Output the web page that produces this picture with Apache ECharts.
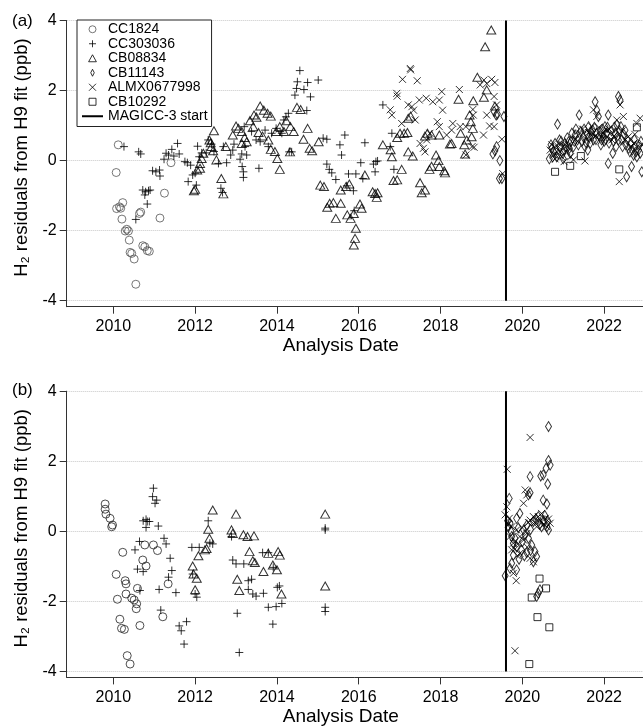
<!DOCTYPE html>
<html>
<head>
<meta charset="utf-8">
<script src="https://cdn.jsdelivr.net/npm/echarts@6/dist/echarts.min.js"></script>
<style>
html,body{margin:0;padding:0;background:#fff;}
#chart{width:643px;height:728px;}
</style>
</head>
<body>
<div id="chart"></div>
<script>
// ---------- data ----------
const xTicks = [2010, 2012, 2014, 2016, 2018, 2020, 2022];
const yTicks = [-4, -2, 0, 2, 4];
const seriesNames = ['CC1824', 'CC303036', 'CB08834', 'CB11143', 'ALMX0677998', 'CB10292'];
const lineName = 'MAGICC-3 start';
const magiccStart = [[2019.6, -4], [2019.6, 4]];

// panel (a)
const aCC1824 = [[2010.12,0.45],[2010.07,-0.34],[2010.08,-1.37],[2010.15,-1.32],[2010.23,-1.20],[2010.18,-1.36],[2010.21,-1.67],[2010.29,-2.01],[2010.33,-1.96],[2010.37,-2.01],[2010.39,-2.27],[2010.41,-2.62],[2010.45,-2.65],[2010.51,-2.81],[2010.55,-3.53],[2010.72,-2.43],[2010.77,-2.46],[2010.83,-2.57],[2010.88,-2.59],[2010.64,-1.51],[2010.67,-1.47],[2011.14,-1.64],[2011.25,-0.93],[2011.41,-0.06]];
const aCC303036 = [[2010.26,0.40],[2010.62,0.25],[2010.67,0.19],[2010.55,-1.68],[2010.72,-0.84],[2010.79,-0.89],[2010.86,-0.86],[2010.77,-0.98],[2010.83,-1.24],[2010.90,-0.84],[2010.96,-0.29],[2011.04,-0.32],[2011.13,-0.27],[2011.14,-0.44],[2011.24,0.04],[2011.29,0.21],[2011.35,0.16],[2011.43,0.32],[2011.48,0.13],[2011.57,0.49],[2011.61,0.19],[2011.75,-0.03],[2011.81,-0.06],[2011.83,-0.60],[2011.89,-0.13],[2011.94,-0.41],[2012.00,-0.36],[2012.03,-0.70],[2012.06,0.41],[2012.10,0.11],[2012.16,0.22],[2012.27,0.22],[2012.32,0.59],[2012.40,0.47],[2012.46,0.26],[2012.57,-0.08],[2012.63,-0.79],[2012.67,-0.91],[2012.69,0.40],[2012.77,-0.06],[2012.87,0.16],[2012.92,0.30],[2012.95,0.47],[2013.10,0.04],[2013.15,-0.17],[2013.18,-0.32],[2013.18,-0.48],[2013.14,0.19],[2013.22,0.40],[2013.20,0.97],[2013.26,0.16],[2013.38,0.83],[2013.49,0.59],[2013.59,0.54],[2013.56,-0.22],[2013.71,0.87],[2013.79,0.40],[2013.87,0.78],[2013.98,0.92],[2014.08,0.83],[2014.12,0.78],[2014.17,1.16],[2014.22,1.25],[2014.28,1.35],[2014.30,0.25],[2014.36,0.25],[2014.44,1.87],[2014.48,2.06],[2014.56,2.57],[2014.50,2.25],[2014.66,2.03],[2014.75,2.23],[2014.82,1.82],[2014.73,1.43],[2015.01,2.30],[2015.13,0.64],[2015.22,0.61],[2015.22,-0.10],[2015.28,-0.25],[2015.34,-0.35],[2015.44,-0.54],[2015.54,0.45],[2015.58,0.16],[2015.66,0.73],[2015.75,-0.38],[2015.93,-0.38],[2016.10,-0.51],[2015.71,-0.72],[2015.87,-0.86],[2015.89,-1.43],[2016.05,-0.06],[2016.15,0.51],[2016.36,-0.10],[2016.42,-0.03],[2016.46,-0.01],[2016.40,-0.32],[2016.59,1.59],[2016.77,0.40],[2016.81,0.78],[2016.86,-0.25]];
const aCB08834 = [[2012.46,0.85],[2012.35,0.59],[2012.38,0.51],[2012.40,0.40],[2012.44,0.28],[2012.20,0.21],[2012.16,0.06],[2012.12,-0.22],[2012.05,-0.27],[2012.12,-0.08],[2012.00,-0.82],[2011.97,-0.86],[2012.52,0.02],[2012.64,-0.51],[2012.69,-0.95],[2012.75,0.40],[2012.92,0.73],[2013.00,0.99],[2013.06,0.92],[2013.14,0.83],[2013.21,0.66],[2013.26,0.54],[2013.14,0.49],[2013.34,1.14],[2013.44,1.30],[2013.50,1.24],[2013.59,1.56],[2013.68,1.44],[2013.77,1.35],[2013.85,1.27],[2013.42,0.97],[2013.55,0.80],[2013.65,0.70],[2013.79,0.59],[2013.85,0.32],[2013.95,0.26],[2014.01,0.06],[2014.07,-0.25],[2013.98,0.83],[2014.07,0.97],[2014.17,0.83],[2014.23,1.14],[2014.33,0.97],[2014.41,0.83],[2014.49,1.52],[2014.58,1.46],[2014.32,0.25],[2014.65,0.61],[2014.75,0.92],[2014.80,0.35],[2014.86,0.28],[2015.02,0.54],[2015.06,-0.70],[2015.15,-0.74],[2015.23,-1.33],[2015.29,-1.22],[2015.38,-1.20],[2015.44,-1.65],[2015.56,-1.22],[2015.72,-1.55],[2015.80,-1.65],[2015.88,-1.51],[2015.93,-1.93],[2015.91,-2.22],[2015.88,-2.41],[2015.56,-0.84],[2015.69,-0.74],[2015.77,-0.67],[2016.03,-1.24],[2016.07,-1.36],[2016.15,-0.41],[2016.34,-0.89],[2016.40,-0.94],[2016.46,-0.92],[2016.44,-1.05],[2016.59,0.45],[2016.78,0.31],[2016.81,0.11],[2016.85,-0.57],[2016.94,-0.55],[2017.05,-0.25],[2016.94,0.66],[2017.01,0.78],[2017.11,0.78],[2017.19,0.80],[2017.21,1.21],[2017.27,1.27],[2017.21,0.25],[2017.32,0.13],[2017.50,-0.63],[2017.54,-0.92],[2017.62,-0.84],[2017.62,0.70],[2017.68,0.78],[2017.78,0.73],[2017.73,-0.25],[2017.78,-0.16],[2017.89,0.16],[2017.95,0.00],[2017.97,-0.17],[2018.09,-0.29],[2018.11,-0.35],[2017.97,0.73],[2018.23,0.47],[2018.27,0.49],[2018.44,1.75],[2018.49,0.78],[2018.58,0.45],[2018.60,0.19],[2018.64,0.59],[2018.71,1.30],[2018.74,1.11],[2018.80,1.71],[2018.79,0.92],[2018.76,0.68],[2018.90,2.38],[2019.06,1.81],[2019.09,3.25],[2019.24,3.73],[2019.13,2.02],[2019.33,1.56]];
const aCB11143 = [[2019.31,1.40],[2019.36,1.30],[2019.39,1.33],[2019.55,1.26],[2019.28,0.19],[2019.33,0.28],[2019.37,0.40],[2019.45,0.00],[2019.44,-0.51],[2019.50,-0.51],[2020.86,1.04],[2020.76,0.25],[2020.84,0.11],[2020.92,0.40],[2020.99,0.21],[2021.04,0.49],[2021.29,0.73],[2021.35,0.59],[2021.39,1.30],[2021.25,0.40],[2021.17,0.21],[2021.49,0.68],[2021.56,0.51],[2021.62,0.97],[2021.67,0.83],[2021.74,0.59],[2021.78,1.68],[2021.82,1.44],[2021.86,1.26],[2021.90,0.83],[2021.98,0.68],[2022.06,0.78],[2022.10,1.30],[2022.10,-0.08],[2022.21,0.21],[2022.35,1.83],[2022.39,1.73],[2022.31,1.02],[2022.41,0.97],[2022.51,0.87],[2022.55,-0.46],[2022.67,-0.17],[2022.63,0.25],[2022.72,0.16],[2022.80,0.11],[2022.88,0.21],[2022.92,-0.32],[2020.72,0.35],[2020.80,0.49],[2020.91,0.59],[2021.02,0.32],[2021.13,0.54],[2021.21,0.78],[2021.43,0.83],[2021.53,0.40],[2021.64,0.68],[2021.72,0.87],[2021.82,0.78],[2021.94,0.59],[2022.02,0.97],[2022.16,0.68],[2022.27,0.78],[2022.35,0.59],[2022.45,0.40],[2022.57,0.59],[2022.76,0.40],[2022.84,0.30],[2020.66,0.05],[2020.70,0.45],[2020.74,0.10],[2020.82,0.30],[2020.88,0.20],[2020.95,0.55],[2021.00,0.05],[2021.07,0.40],[2021.10,0.65],[2021.15,0.35],[2021.19,0.55],[2021.27,0.55],[2021.31,0.90],[2021.37,0.45],[2021.45,0.55],[2021.51,0.90],[2021.58,0.75],[2021.60,0.30],[2021.66,0.50],[2021.70,0.70],[2021.76,0.95],[2021.80,0.60],[2021.88,0.70],[2021.92,0.45],[2021.96,0.90],[2022.00,0.55],[2022.04,0.60],[2022.08,0.95],[2022.12,0.50],[2022.18,0.85],[2022.23,0.55],[2022.25,0.95],[2022.29,0.40],[2022.33,0.70],[2022.38,0.85],[2022.43,0.60],[2022.48,0.75],[2022.53,0.45],[2022.60,0.35],[2022.65,0.50],[2022.69,0.30],[2022.74,0.60],[2022.78,0.25],[2022.86,0.45],[2022.90,0.55]];
const aALMX0677998 = [[2017.26,2.63],[2017.27,2.59],[2017.07,2.32],[2017.43,2.28],[2016.93,1.92],[2016.94,1.84],[2016.77,1.45],[2016.81,1.30],[2017.05,1.06],[2017.21,1.59],[2017.30,1.54],[2017.34,1.44],[2017.38,1.16],[2017.48,1.73],[2017.65,1.78],[2017.81,1.68],[2017.97,1.73],[2018.03,1.97],[2018.05,1.44],[2017.92,1.11],[2017.97,0.97],[2017.50,0.49],[2017.62,0.25],[2017.66,0.59],[2017.58,0.35],[2017.74,0.78],[2018.15,0.73],[2018.30,1.06],[2018.27,0.87],[2018.46,2.03],[2018.48,0.97],[2018.62,0.97],[2018.62,0.16],[2018.79,1.46],[2018.80,1.30],[2018.82,0.38],[2018.77,0.40],[2018.97,2.16],[2019.06,2.30],[2019.13,2.20],[2019.25,2.32],[2019.33,2.23],[2019.13,1.30],[2019.20,0.99],[2019.31,0.97],[2019.05,0.73],[2019.31,1.83],[2019.37,1.59],[2019.50,0.61],[2019.52,-0.37],[2020.68,0.30],[2020.76,0.16],[2020.88,0.40],[2020.96,0.11],[2021.09,0.25],[2021.25,0.02],[2021.53,-0.01],[2021.41,0.78],[2021.57,0.59],[2021.70,0.97],[2021.82,1.26],[2021.74,1.45],[2021.94,0.68],[2022.06,0.87],[2022.19,0.59],[2022.31,1.16],[2022.39,1.59],[2022.47,1.26],[2022.37,-0.60],[2022.59,0.68],[2022.80,1.06],[2022.88,1.21],[2022.72,0.49],[2021.02,-0.03],[2021.18,0.11],[2020.72,0.45],[2020.80,0.05],[2020.92,0.25],[2021.05,0.45],[2021.14,0.35],[2021.30,0.60],[2021.47,0.90],[2021.62,0.80],[2021.78,0.70],[2021.87,0.95],[2022.00,0.75],[2022.12,0.90],[2022.24,0.70],[2022.44,0.85],[2022.52,0.60],[2022.66,0.40],[2022.75,0.75],[2022.92,0.45]];
const aCB10292 = [[2020.80,-0.32],[2021.17,-0.15],[2021.43,0.13],[2022.37,-0.25],[2022.80,0.95]];

// panel (b)
const bCC1824 = [[2009.80,0.78],[2009.80,0.63],[2009.82,0.49],[2009.92,0.37],[2009.98,0.18],[2009.96,0.13],[2010.23,-0.60],[2010.07,-1.23],[2010.29,-1.41],[2010.31,-1.50],[2010.10,-1.94],[2010.31,-1.79],[2010.45,-1.91],[2010.51,-1.96],[2010.57,-2.07],[2010.56,-2.21],[2010.59,-1.63],[2010.16,-2.51],[2010.20,-2.77],[2010.27,-2.80],[2010.65,-2.69],[2010.34,-3.55],[2010.41,-3.79],[2010.72,-0.82],[2010.80,-0.99],[2010.77,-0.39],[2010.98,-0.39],[2011.08,-0.55],[2011.34,-1.50],[2011.21,-2.44]];
const bCC303036 = [[2010.98,1.23],[2010.96,0.99],[2011.06,0.89],[2011.02,0.80],[2010.73,0.30],[2010.80,0.34],[2010.83,0.28],[2010.88,0.28],[2010.80,0.11],[2011.10,0.15],[2011.24,-0.20],[2011.29,-0.36],[2010.64,-0.29],[2010.53,-0.53],[2010.59,-1.08],[2010.73,-1.15],[2010.65,-1.69],[2011.12,-1.66],[2011.39,-0.77],[2011.43,-1.12],[2011.35,-1.31],[2011.53,-1.75],[2011.16,-2.25],[2011.61,-2.70],[2011.66,-2.84],[2011.79,-2.58],[2011.73,-3.22],[2011.92,-0.46],[2012.10,-0.46],[2011.94,-1.22],[2012.00,-1.79],[2012.04,-1.88],[2012.32,0.30],[2012.36,-0.34],[2012.43,-0.36],[2012.89,-0.15],[2012.92,-0.82],[2013.00,-0.93],[2013.19,-0.93],[2013.03,-2.34],[2013.08,-3.46],[2013.30,-1.41],[2013.38,-1.37],[2013.30,-1.66],[2013.41,-1.79],[2013.49,-1.85],[2013.67,-1.77],[2013.65,-0.61],[2013.79,-0.61],[2013.91,-1.03],[2013.79,-2.17],[2013.98,-2.15],[2014.12,-2.06],[2013.90,-2.65],[2014.01,-1.60],[2014.06,-1.56],[2015.18,0.09],[2015.18,0.04],[2015.18,-2.17],[2015.18,-2.29]];
const bCB08834 = [[2012.43,0.61],[2013.00,0.49],[2012.32,0.06],[2012.35,-0.20],[2012.28,-0.49],[2012.24,-0.53],[2012.08,-0.70],[2011.94,-0.99],[2011.96,-1.22],[2012.04,-1.34],[2012.00,-1.67],[2012.89,0.04],[2012.92,-0.06],[2013.18,-0.10],[2013.28,-0.15],[2013.44,-0.13],[2013.33,-0.58],[2013.41,-0.84],[2013.46,-0.89],[2013.03,-1.37],[2013.08,-1.69],[2013.67,-1.15],[2013.79,-0.63],[2013.90,-0.96],[2014.00,-1.10],[2014.03,-0.58],[2014.07,-0.68],[2014.11,-1.79],[2015.18,0.49],[2015.18,-1.56]];
const bCB11143 = [[2020.64,2.99],[2020.64,2.02],[2020.68,1.89],[2020.58,1.80],[2020.51,1.61],[2020.19,1.56],[2020.45,1.58],[2020.62,1.35],[2019.68,0.94],[2020.19,1.10],[2020.15,1.04],[2020.51,0.89],[2020.60,0.78],[2019.94,0.51],[2019.86,0.37],[2019.70,0.23],[2019.66,0.13],[2019.74,-0.15],[2019.78,-0.34],[2020.11,0.18],[2020.27,0.28],[2020.39,0.42],[2020.51,0.28],[2020.60,0.13],[2020.64,0.04],[2020.47,0.13],[2020.03,0.04],[2020.15,-0.20],[2020.23,-0.39],[2020.31,-0.58],[2020.35,-0.72],[2020.27,-0.87],[2020.11,-0.61],[2019.98,-0.53],[2019.86,-0.44],[2019.78,-0.68],[2019.74,-0.91],[2019.70,-1.06],[2019.86,-1.10],[2020.35,-1.86],[2020.39,-1.77],[2020.43,-1.67],[2019.58,-1.27],[2019.64,0.30],[2019.72,0.00],[2019.82,-0.20],[2019.90,0.10],[2020.00,-0.30],[2020.07,-0.10],[2020.20,0.05],[2020.33,0.35],[2020.43,0.20],[2020.55,0.45],[2020.62,0.30],[2020.20,-0.55],[2019.92,-0.80],[2020.05,-0.70]];
const bALMX0677998 = [[2019.63,1.77],[2020.19,2.68],[2019.58,0.47],[2019.62,0.70],[2020.07,1.18],[2020.03,0.80],[2020.11,1.04],[2019.68,0.37],[2019.74,0.13],[2019.70,-0.15],[2019.78,-0.34],[2019.86,0.04],[2019.94,-0.15],[2020.11,-0.06],[2020.19,0.32],[2020.27,0.42],[2020.35,0.13],[2020.47,0.51],[2020.56,0.37],[2020.60,0.13],[2020.68,0.23],[2019.82,-0.51],[2019.94,-0.63],[2020.19,-0.77],[2020.27,-0.87],[2019.78,-1.20],[2019.85,-1.41],[2019.82,-3.41],[2020.39,0.42],[2019.74,-0.53],[2020.03,-0.25],[2019.66,0.20],[2019.90,-0.35],[2020.00,0.10],[2020.15,0.25],[2020.30,0.25],[2020.45,0.30],[2020.52,0.20],[2020.64,0.35],[2019.88,-0.70],[2020.12,-0.45]];
const bCB10292 = [[2020.42,-1.35],[2020.58,-1.63],[2020.23,-1.89],[2020.37,-2.45],[2020.66,-2.74],[2020.17,-3.79]];

// ---------- styling ----------
const FONT = "'Liberation Sans', Arial, Helvetica, sans-serif";
const SHAPES = {
  'CC1824':      {symbol: 'circle', size: 8, color: '#555', colorB: '#222'},
  'CC303036':    {symbol: 'path://M5,0L5,10M0,5L10,5', size: 8, color: '#000'},
  'CB08834':     {symbol: 'path://M5,0L10,9L0,9Z', size: [9, 8], color: '#000'},
  'CB11143':     {symbol: 'path://M5,0L10,10L5,20L0,10Z', size: [6, 10], color: '#000'},
  'ALMX0677998': {symbol: 'path://M0,0L10,10M10,0L0,10', size: 7, color: '#000'},
  'CB10292':     {symbol: 'path://M0,0L10,0L10,10L0,10Z', size: 7, color: '#000'}
};
const panelA = [aCC1824, aCC303036, aCB08834, aCB11143, aALMX0677998, aCB10292];
const panelB = [bCC1824, bCC303036, bCB08834, bCB11143, bALMX0677998, bCB10292];

function scatter(name, data, idx) {
  const s = SHAPES[name];
  const col = (idx === 1 && s.colorB) ? s.colorB : s.color;
  return {
    type: 'scatter', name: name, data: data,
    xAxisIndex: idx, yAxisIndex: idx,
    symbol: s.symbol, symbolSize: s.size,
    itemStyle: {color: 'rgba(0,0,0,0)', borderColor: col, borderWidth: 1},
    emphasis: {disabled: true}, silent: true
  };
}
function vline(idx) {
  return {
    type: 'line', name: lineName, data: magiccStart,
    xAxisIndex: idx, yAxisIndex: idx, symbol: 'none',
    lineStyle: {color: '#000', width: 2}, itemStyle: {color: '#000'},
    emphasis: {disabled: true}, silent: true, z: 3
  };
}
function xAxis(idx) {
  return {
    type: 'value', gridIndex: idx, min: 2008.86, max: 2022.95,
    name: 'Analysis Date', nameLocation: 'middle', nameGap: 30,
    nameTextStyle: {fontSize: 19, fontFamily: FONT, color: '#000', padding: [0, 28, 0, 0]},
    axisLine: {onZero: false, lineStyle: {color: '#333', width: 1}},
    axisTick: {show: true, inside: false, length: 7, customValues: xTicks, lineStyle: {color: '#333'}},
    axisLabel: {customValues: xTicks, margin: 12, fontSize: 16, fontFamily: FONT, color: '#000',
                formatter: v => String(v)},
    splitLine: {show: false}
  };
}
function yAxis(idx) {
  return {
    type: 'value', gridIndex: idx, min: -4.171, max: 4, splitNumber: 4,
    name: 'H\u2082 residuals from H9 fit (ppb)', nameLocation: 'middle', nameGap: 25,
    nameTextStyle: {fontSize: 18.5, fontFamily: FONT, color: '#000', padding: [0, 0, 0, 12]},
    axisLine: {onZero: false, lineStyle: {color: '#333', width: 1}},
    axisTick: {show: true, inside: false, length: 7, customValues: yTicks, lineStyle: {color: '#333'}},
    axisLabel: {customValues: yTicks, margin: 10, fontSize: 16, fontFamily: FONT, color: '#000',
                formatter: v => String(v)},
    splitLine: {show: true, lineStyle: {color: '#c8c8c8', type: 'dotted', width: 1}}
  };
}

const series = [];
seriesNames.forEach((n, i) => series.push(scatter(n, panelA[i], 0)));
series.push(vline(0));
seriesNames.forEach((n, i) => series.push(scatter(n, panelB[i], 1)));
series.push(vline(1));

const legendData = seriesNames.map(n => ({
  name: n,
  itemStyle: {color: 'rgba(0,0,0,0)', borderColor: SHAPES[n].color, borderWidth: 1}
}));
legendData.push({name: lineName, icon: 'path://M0,0L21,0L21,2L0,2Z', itemStyle: {color: '#000', borderWidth: 0}});

const option = {
  animation: false,
  backgroundColor: '#fff',
  title: [
    {text: '(a)', left: 12, top: 13, padding: 0, textStyle: {fontSize: 17, fontWeight: 'normal', fontFamily: FONT, color: '#000'}},
    {text: '(b)', left: 12, top: 382, padding: 0, textStyle: {fontSize: 17, fontWeight: 'normal', fontFamily: FONT, color: '#000'}}
  ],
  legend: {
    left: 77, top: 20, orient: 'vertical', itemWidth: 21, itemHeight: 7, itemGap: 0,
    padding: [2, 4, 3, 5], borderColor: '#222', borderWidth: 1, backgroundColor: '#fff',
    selectedMode: false,
    textStyle: {fontSize: 14, fontFamily: FONT, color: '#000', lineHeight: 14.5},
    data: legendData
  },
  grid: [
    {left: 66.7, top: 20.5, right: 0, height: 286.2, containLabel: false},
    {left: 66.7, top: 391.2, right: 0, height: 286.2, containLabel: false}
  ],
  xAxis: [xAxis(0), xAxis(1)],
  yAxis: [yAxis(0), yAxis(1)],
  series: series
};

const chart = echarts.init(document.getElementById('chart'), null, {renderer: 'canvas'});
chart.setOption(option);
</script>
</body>
</html>
